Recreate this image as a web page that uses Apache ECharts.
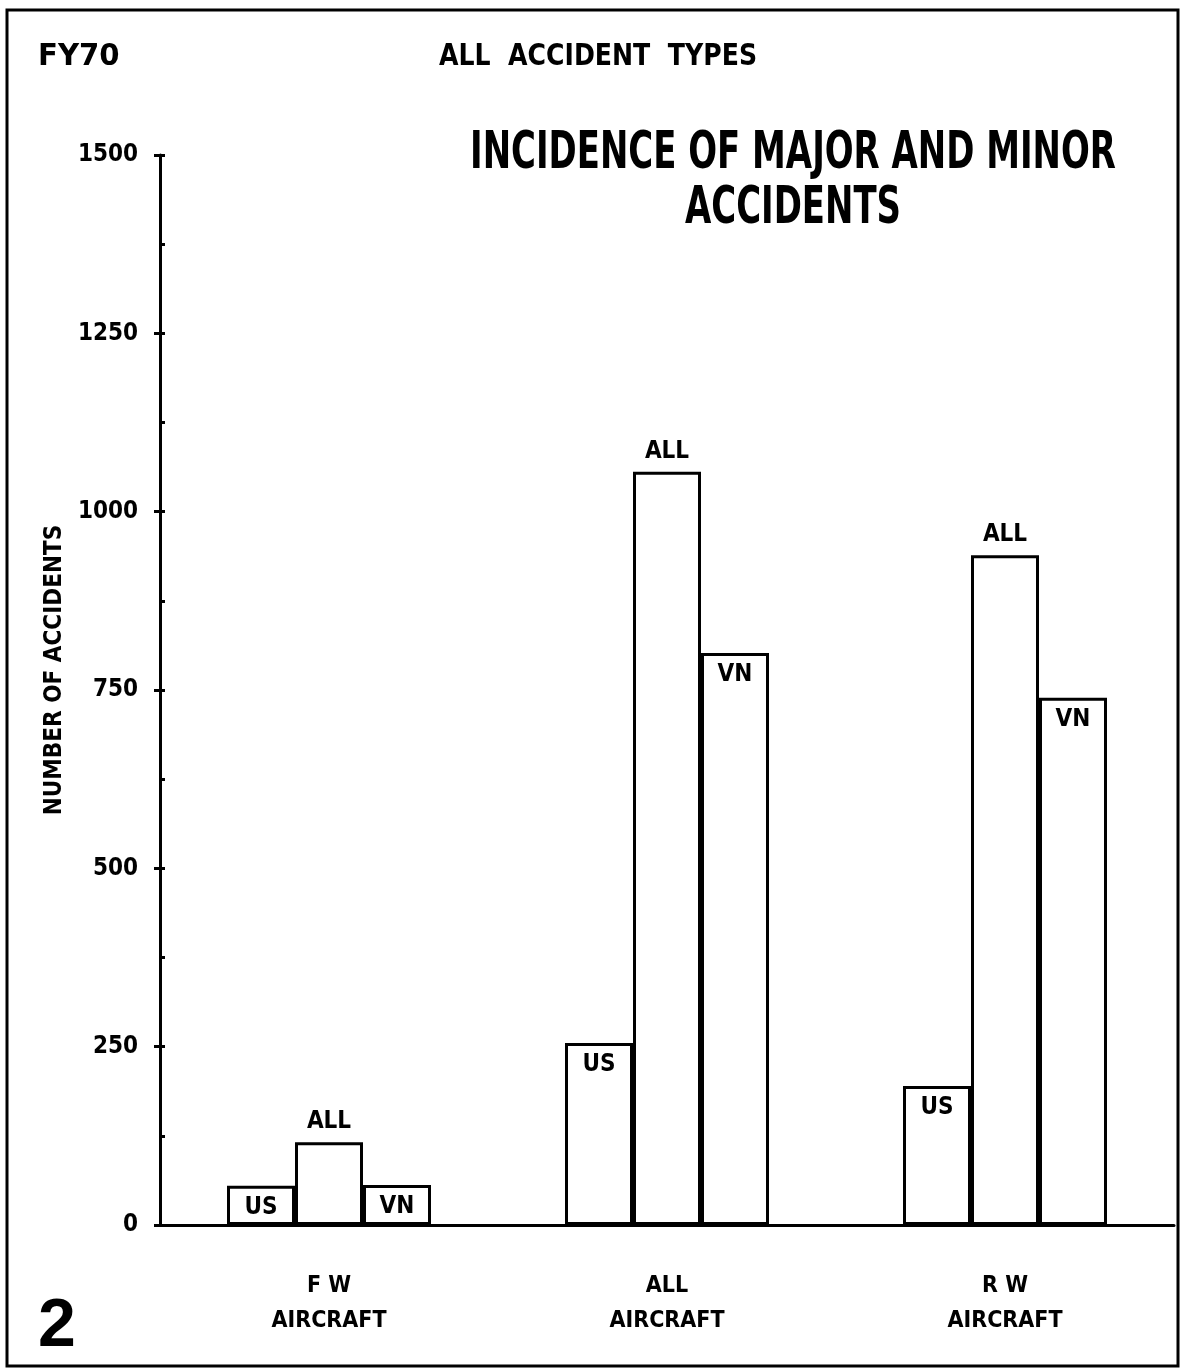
<!DOCTYPE html>
<html>
<head>
<meta charset="utf-8">
<script src="https://cdn.jsdelivr.net/npm/echarts@6/dist/echarts.min.js"></script>
<style>
html,body{margin:0;padding:0;background:#fff;}
#chart{width:1182px;height:1369px;}
</style>
</head>
<body>
<div id="chart"></div>
<script>
const categories = ['F W\nAIRCRAFT', 'ALL\nAIRCRAFT', 'R W\nAIRCRAFT'];
const seriesNames = ['US', 'ALL', 'VN'];
const usValues = [55, 255, 195];
const allValues = [116, 1056, 939];
const vnValues = [56, 802, 739];
const yMin = 0, yMax = 1500, yInterval = 250;
const yAxisName = 'NUMBER OF ACCIDENTS';
const topLeftText = 'FY70';
const topCenterText = 'ALL  ACCIDENT  TYPES';
const titleText = 'INCIDENCE OF MAJOR AND MINOR\nACCIDENTS';
const pageNumber = '2';

const FONT = "'Liberation Sans Narrow', 'DejaVu Sans Condensed', sans-serif";
const chart = echarts.init(document.getElementById('chart'), null, {renderer: 'canvas'});

function barSeries(name, data, labelPos, dist) {
  return {
    name: name,
    type: 'bar',
    data: data,
    barWidth: 68,
    barGap: '0%',
    itemStyle: {color: '#ffffff', borderColor: '#000000', borderWidth: 3},
    label: {
      show: true,
      position: labelPos,
      distance: dist,
      formatter: name,
      color: '#000',
      fontFamily: FONT,
      fontWeight: 'bold',
      fontSize: 24
    },
    emphasis: {disabled: true},
    animation: false
  };
}

chart.setOption({
  backgroundColor: '#ffffff',
  animation: false,
  grid: {left: 160, right: 8, top: 155, bottom: 144, containLabel: false},
  xAxis: {
    type: 'category',
    data: categories,
    axisLine: {lineStyle: {color: '#000', width: 3}},
    axisTick: {show: false},
    axisLabel: {
      color: '#000', fontFamily: FONT, fontWeight: 'bold', fontSize: 23,
      lineHeight: 35, margin: 44
    }
  },
  yAxis: [{
    type: 'value',
    min: yMin, max: yMax, interval: yInterval,
    name: yAxisName,
    nameLocation: 'middle',
    nameRotate: 90,
    nameGap: 90,
    nameTextStyle: {color: '#000', fontFamily: FONT, fontWeight: 'bold', fontSize: 24, padding: [0, 0, 0, 40]},
    axisLine: {show: true, lineStyle: {color: '#000', width: 3}},
    axisTick: {show: true, length: 6, lineStyle: {color: '#000', width: 3}},
    axisLabel: {color: '#000', fontFamily: FONT, fontWeight: 'bold', fontSize: 24, margin: 22,
      formatter: function (v) { return String(v); }},
    splitLine: {show: false}
  }, {
    type: 'value',
    position: 'left',
    min: yMin, max: yMax, interval: yInterval,
    axisLine: {show: false},
    axisTick: {show: true, inside: true, length: 5, lineStyle: {color: '#000', width: 3}},
    minorTick: {show: true, splitNumber: 2, length: 5, lineStyle: {color: '#000', width: 3}},
    axisLabel: {show: false},
    splitLine: {show: false}
  }],
  series: [
    barSeries(seriesNames[0], usValues, 'insideTop', 10),
    barSeries(seriesNames[1], allValues, 'top', 8),
    barSeries(seriesNames[2], vnValues, 'insideTop', 10)
  ],
  graphic: [
    {type: 'rect', shape: {x: 7, y: 10, width: 1171, height: 1356},
     style: {fill: 'none', stroke: '#000', lineWidth: 3}, silent: true},
    {type: 'text', x: 38, y: 57, scaleX: 1.2, scaleY: 1.1, style: {text: topLeftText, font: 'bold 27px ' + FONT, fill: '#000', textAlign: 'left', textVerticalAlign: 'middle'}},
    {type: 'text', x: 598, y: 57, scaleY: 1.1, style: {text: topCenterText, font: 'bold 28px ' + FONT, fill: '#000', textAlign: 'center', textVerticalAlign: 'middle'}},
    {type: 'text', x: 793, y: 182, scaleX: 0.82, scaleY: 1.12, style: {text: titleText, font: 'bold 46px ' + FONT, lineHeight: 49, fill: '#000', textAlign: 'center', textVerticalAlign: 'middle'}},
    {type: 'text', x: 38, y: 1327, style: {text: pageNumber, font: 'bold 68px "Liberation Sans", Arial, sans-serif', fill: '#000', textAlign: 'left', textVerticalAlign: 'middle'}}
  ]
});
</script>
</body>
</html>
